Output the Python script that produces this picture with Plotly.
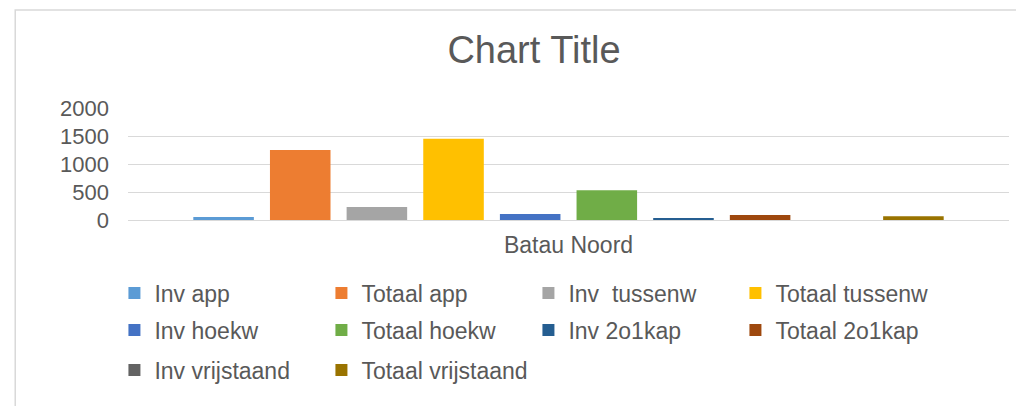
import plotly.graph_objects as go

categories = ["Batau Noord"]
series_names = [
    "Inv app", "Totaal app", "Inv  tussenw", "Totaal tussenw", "Inv hoekw",
    "Totaal hoekw", "Inv 2o1kap", "Totaal 2o1kap", "Inv vrijstaand", "Totaal vrijstaand",
]
series_values = [55, 1250, 232, 1450, 105, 530, 35, 90, 0, 65]
colors = [
    "#5B9BD5", "#ED7D31", "#A5A5A5", "#FFC000", "#4472C4",
    "#70AD47", "#255E91", "#9E480E", "#636363", "#997300",
]
y_ticks = [0, 500, 1000, 1500, 2000]

font_family = "Liberation Sans, Arial, sans-serif"
text_color = "#595959"

# legend is drawn as three rows of four entries (one plotly legend per row)
legend_rows = ["legend", "legend2", "legend3"]
row_y = [-0.652, -0.982, -1.339]

fig = go.Figure()
for i, (name, val, col) in enumerate(zip(series_names, series_values, colors)):
    fig.add_trace(go.Bar(x=categories, y=[val], name=name, marker_color=col,
                         marker_line_width=0, legend=legend_rows[i // 4]))

legend_style = dict(orientation="h", x=-0.0154, xanchor="left", yanchor="middle",
                    entrywidth=162, entrywidthmode="pixels", borderwidth=0,
                    font=dict(size=23, color=text_color), bgcolor="rgba(0,0,0,0)")

fig.update_layout(
    width=1016, height=398,
    margin=dict(l=120, r=15, t=100, b=186),
    paper_bgcolor="white", plot_bgcolor="white",
    font=dict(family=font_family, color=text_color, size=22),
    title=dict(text="Chart Title", x=0.5177, xanchor="center", y=0.894, yanchor="middle",
               xref="container", yref="container", font=dict(size=38, color=text_color)),
    barmode="group", bargap=0.13, bargroupgap=0.21,
    legend=dict(legend_style, y=row_y[0]),
    legend2=dict(legend_style, y=row_y[1]),
    legend3=dict(legend_style, y=row_y[2]),
    showlegend=True,
)
fig.update_yaxes(range=[0, 2000], tickvals=y_ticks, gridcolor="#d9d9d9", gridwidth=1,
                 zeroline=False, showline=False, ticks="", tickfont=dict(size=22), ticklabelstandoff=18)
fig.update_xaxes(showline=True, linecolor="#d9d9d9", linewidth=1, ticks="",
                 tickfont=dict(size=23), ticklabelstandoff=4)

# outer chart frame
fig.add_shape(type="rect", xref="paper", yref="paper", x0=-0.128, x1=1.2, y0=-2.0, y1=1.875,
              line=dict(color="#d9d9d9", width=1.5), fillcolor="rgba(0,0,0,0)", layer="below")

fig.write_html("out.html")
